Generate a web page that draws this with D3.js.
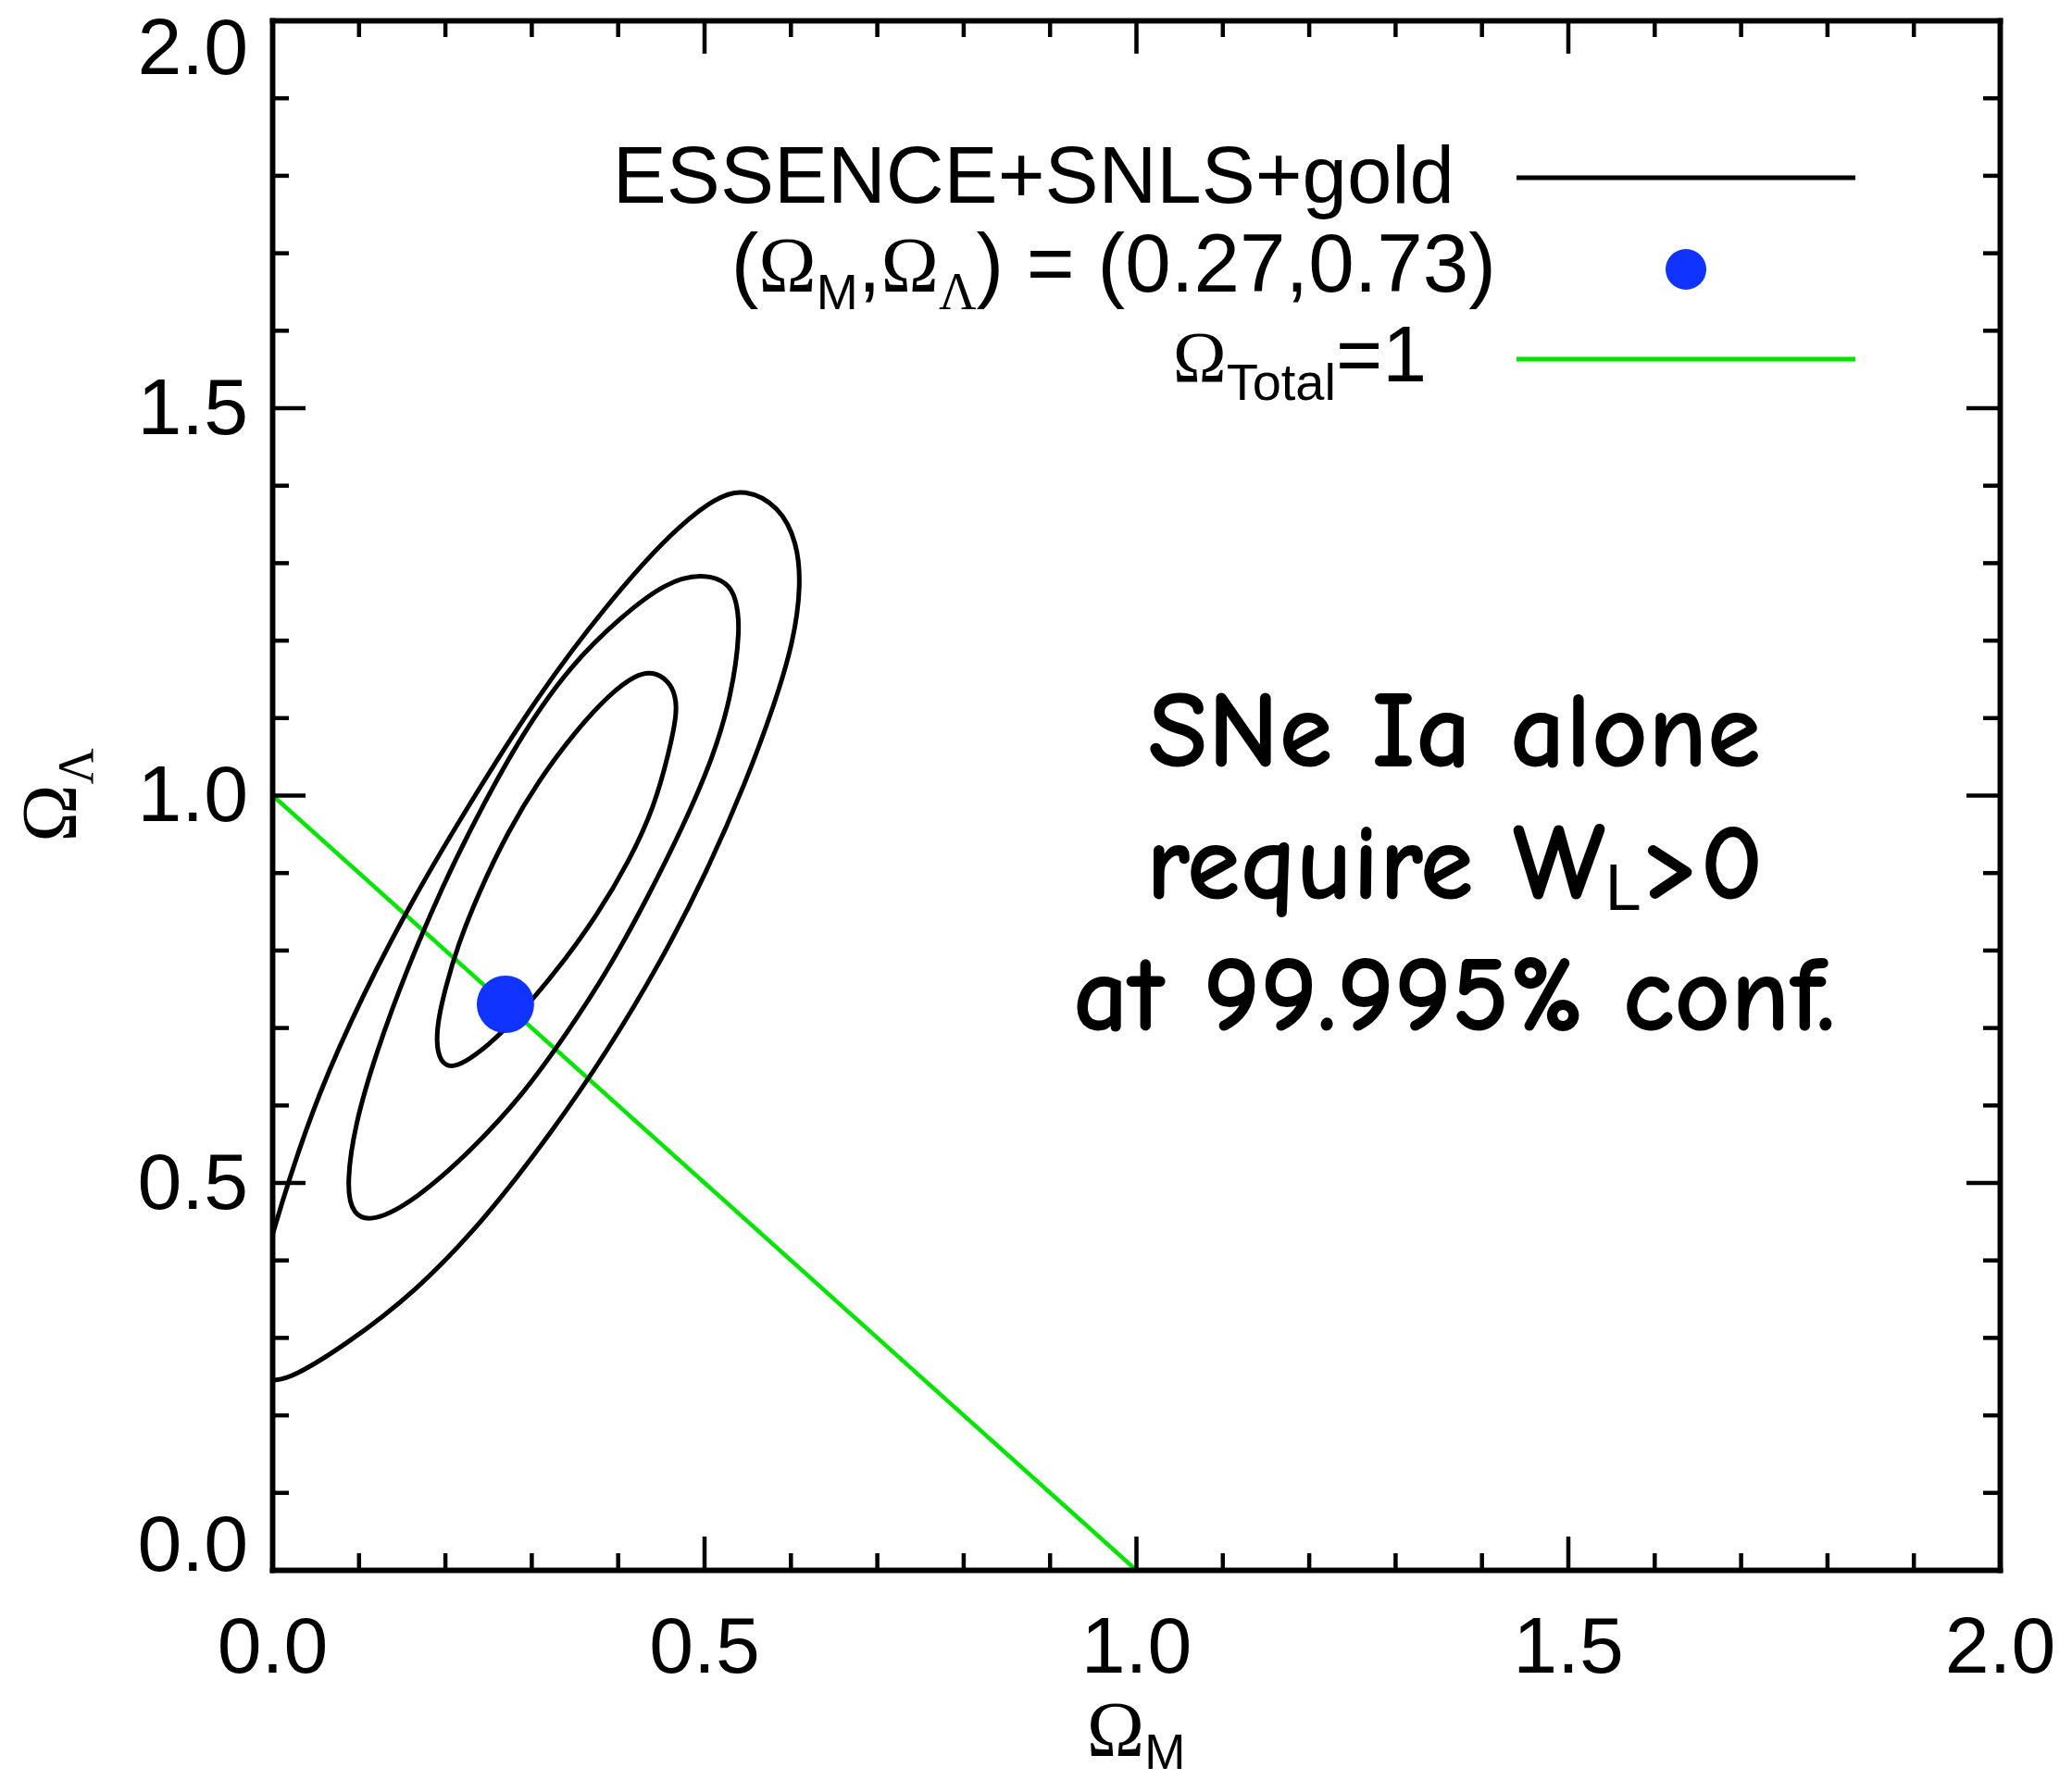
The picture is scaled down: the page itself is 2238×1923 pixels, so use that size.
<!DOCTYPE html>
<html>
<head>
<meta charset="utf-8">
<script src="https://cdnjs.cloudflare.com/ajax/libs/d3/7.8.5/d3.min.js"></script>
<style>
  body { margin: 0; background: #fff; }
  .tick text { font-family: "Liberation Sans", Arial, sans-serif; font-size: 86px; fill: #000; }
  .sans { font-family: "Liberation Sans", Arial, sans-serif; }
  .serif { font-family: "Liberation Serif", "Times New Roman", serif; }
  .comic { font-family: "Comic Sans MS", "Comic Neue", "DejaVu Sans", sans-serif; }
</style>
</head>
<body>
<div id="chart"></div>
<script>
const width = 2238
const height = 1923
const margin = {
    top: 22,
    bottom: 227,
    left: 294,
    right: 78
}

// ---- data ----
const majorTicks = [0, 0.5, 1.0, 1.5, 2.0]
const tickLabels = ["0.0", "0.5", "1.0", "1.5", "2.0"]
const minorTicks = [0.1, 0.2, 0.3, 0.4, 0.6, 0.7, 0.8, 0.9, 1.1, 1.2, 1.3, 1.4, 1.6, 1.7, 1.8, 1.9]

// 1, 2, 3 sigma contours (Omega_M, Omega_Lambda)
const contour1 = [[0.4405,1.1596],[0.4587,1.1481],[0.4673,1.1278],[0.4684,1.1039],[0.4597,1.0566],[0.4427,0.9857],[0.4131,0.9140],[0.3749,0.8428],[0.3384,0.7867],[0.3006,0.7348],[0.2656,0.6928],[0.2364,0.6646],[0.2090,0.6464],[0.1940,0.6559],[0.1897,0.6822],[0.1929,0.7145],[0.2004,0.7503],[0.2138,0.8031],[0.2392,0.8746],[0.2732,0.9536],[0.3087,1.0191],[0.3494,1.0804],[0.3918,1.1319],[0.4215,1.1557]]
const contour2 = [[0.4979,1.2864],[0.5274,1.2746],[0.5368,1.2547],[0.5423,1.2151],[0.5317,1.1280],[0.5105,1.0487],[0.4766,0.9616],[0.4342,0.8665],[0.3876,0.7715],[0.3409,0.6922],[0.2901,0.6130],[0.2308,0.5417],[0.1672,0.4784],[0.1164,0.4483],[0.0930,0.4585],[0.0859,0.4941],[0.0952,0.5735],[0.1206,0.6685],[0.1546,0.7715],[0.1969,0.8823],[0.2392,0.9774],[0.2901,1.0804],[0.3452,1.1676],[0.4046,1.2309],[0.4554,1.2746]]
const contour3 = [[-0.008,0.400],[0.0019,0.4387],[0.0189,0.5020],[0.0528,0.6130],[0.1036,0.7398],[0.1630,0.8665],[0.2308,0.9933],[0.3071,1.1280],[0.3876,1.2468],[0.4639,1.3419],[0.5148,1.3854],[0.5465,1.3958],[0.5868,1.3736],[0.6080,1.3260],[0.6122,1.2706],[0.6038,1.1993],[0.5825,1.1201],[0.5487,1.0171],[0.5020,0.8982],[0.4512,0.7873],[0.3876,0.6685],[0.3240,0.5655],[0.2478,0.4546],[0.1672,0.3595],[0.0824,0.2882],[0.0232,0.2485],[0.0041,0.2446],[-0.012,0.2445]]

const bestFit = [0.27, 0.73]
const flatLine = [[0, 1], [1, 0]]

const legendLabels = ["ESSENCE+SNLS+gold", "(ΩM,ΩΛ) = (0.27,0.73)", "ΩTotal=1"]
const noteLines = ["SNe Ia alone", "require WL>0", "at 99.995% conf."]

const green = "#00e400"
const blue = "#1033ff"

// ---- layout ----
const svg = d3.select("div#chart").append("svg").attr("width", width).attr("height", height)
const innerW = width - margin.left - margin.right
const innerH = height - margin.top - margin.bottom

svg.append("defs").append("clipPath").attr("id", "plotClip")
    .append("rect").attr("width", innerW).attr("height", innerH)

const elementGroup = svg.append("g").attr("id", "elementGroup").attr("transform", `translate(${margin.left}, ${margin.top})`)
const plotGroup = elementGroup.append("g").attr("clip-path", "url(#plotClip)")
const axisGroup = elementGroup.append("g").attr("id", "axisGroup")

const x = d3.scaleLinear().domain([0, 2]).range([0, innerW])
const y = d3.scaleLinear().domain([0, 2]).range([innerH, 0])

// major axes on all four sides, ticks pointing inwards
const fmt = (d) => tickLabels[majorTicks.indexOf(d)]
const xAxis = d3.axisBottom(x).tickValues(majorTicks).tickSize(-36).tickSizeOuter(0).tickPadding(50).tickFormat(fmt)
const yAxis = d3.axisLeft(y).tickValues(majorTicks).tickSize(-36).tickSizeOuter(0).tickPadding(26).tickFormat(fmt)
const xTop = d3.axisTop(x).tickValues(majorTicks).tickSize(-36).tickSizeOuter(0).tickFormat("")
const yRight = d3.axisRight(y).tickValues(majorTicks).tickSize(-36).tickSizeOuter(0).tickFormat("")

const minorBottom = d3.axisBottom(x).tickValues(minorTicks).tickSize(-18).tickSizeOuter(0).tickFormat("")
const minorTop = d3.axisTop(x).tickValues(minorTicks).tickSize(-18).tickSizeOuter(0).tickFormat("")
const minorLeft = d3.axisLeft(y).tickValues(minorTicks).tickSize(-18).tickSizeOuter(0).tickFormat("")
const minorRight = d3.axisRight(y).tickValues(minorTicks).tickSize(-18).tickSizeOuter(0).tickFormat("")

axisGroup.append("g").attr("transform", `translate(0, ${innerH})`).call(minorBottom)
axisGroup.append("g").call(minorTop)
axisGroup.append("g").call(minorLeft)
axisGroup.append("g").attr("transform", `translate(${innerW}, 0)`).call(minorRight)

const xAxisGroup = axisGroup.append("g").attr("transform", `translate(0, ${innerH})`).call(xAxis)
axisGroup.append("g").call(xTop)
const yAxisGroup = axisGroup.append("g").call(yAxis)
axisGroup.append("g").attr("transform", `translate(${innerW}, 0)`).call(yRight)

axisGroup.selectAll(".domain").attr("stroke", "#000").attr("stroke-width", 5.5).attr("stroke-linecap", "square")
axisGroup.selectAll(".tick line").attr("stroke", "#000").attr("stroke-width", 4.5)
// end labels on the y axis are pushed inside the frame
yAxisGroup.selectAll(".tick text")
    .attr("dy", d => d === 2 ? "0.67em" : (d === 0 ? "0" : "0.32em"))

// ---- marks ----
const closedLine = d3.line().x(d => x(d[0])).y(d => y(d[1])).curve(d3.curveBasisClosed)
const openLine = d3.line().x(d => x(d[0])).y(d => y(d[1])).curve(d3.curveBasis)
const straight = d3.line().x(d => x(d[0])).y(d => y(d[1]))

plotGroup.append("path").datum(flatLine).attr("d", straight)
    .attr("fill", "none").attr("stroke", green).attr("stroke-width", 4.5)

plotGroup.selectAll("path.contour").data([contour1, contour2]).enter().append("path")
    .attr("class", "contour").attr("d", closedLine)
    .attr("fill", "none").attr("stroke", "#000").attr("stroke-width", 5)
plotGroup.append("path").datum(contour3).attr("class", "contour").attr("d", openLine)
    .attr("fill", "none").attr("stroke", "#000").attr("stroke-width", 5)

plotGroup.append("circle")
    .attr("cx", x(bestFit[0])).attr("cy", y(bestFit[1])).attr("r", 31)
    .attr("fill", blue)

// ---- axis titles ----
const xTitle = svg.append("text").attr("text-anchor", "middle")
    .attr("x", margin.left + x(1)).attr("y", 1897)
xTitle.append("tspan").attr("class", "serif").attr("font-size", 84).text("Ω")
xTitle.append("tspan").attr("class", "sans").attr("font-size", 53).attr("dy", 14).text("M")

const yTitle = svg.append("text").attr("text-anchor", "middle")
    .attr("transform", `translate(82, ${margin.top + y(1)}) rotate(-90)`)
yTitle.append("tspan").attr("class", "serif").attr("font-size", 84).text("Ω")
yTitle.append("tspan").attr("class", "serif").attr("font-size", 54).attr("dy", 18).text("Λ")

// ---- legend ----
const legend = svg.append("g").attr("id", "legend")
const lineX0 = 1638, lineX1 = 2004

legend.append("text").attr("class", "sans").attr("font-size", 87)
    .attr("text-anchor", "end").attr("x", 1571).attr("y", 219).text(legendLabels[0])
legend.append("line").attr("x1", lineX0).attr("x2", lineX1).attr("y1", 192).attr("y2", 192)
    .attr("stroke", "#000").attr("stroke-width", 5)

const l2 = legend.append("text").attr("text-anchor", "end").attr("x", 1616).attr("y", 315)
l2.append("tspan").attr("class", "sans").attr("font-size", 89).text("(")
l2.append("tspan").attr("class", "serif").attr("font-size", 84).text("Ω")
l2.append("tspan").attr("class", "sans").attr("font-size", 54).attr("dy", 19).text("M")
l2.append("tspan").attr("class", "sans").attr("font-size", 89).attr("dy", -19).text(",")
l2.append("tspan").attr("class", "serif").attr("font-size", 84).text("Ω")
l2.append("tspan").attr("class", "serif").attr("font-size", 56).attr("dy", 19).text("Λ")
l2.append("tspan").attr("class", "sans").attr("font-size", 89).attr("dy", -19).text(") = (0.27,0.73)")
legend.append("circle").attr("cx", 1821).attr("cy", 291).attr("r", 22).attr("fill", blue)

const l3 = legend.append("text").attr("text-anchor", "end").attr("x", 1541).attr("y", 412)
l3.append("tspan").attr("class", "serif").attr("font-size", 78).text("Ω")
l3.append("tspan").attr("class", "sans").attr("font-size", 56).attr("dy", 20).text("Total")
l3.append("tspan").attr("class", "sans").attr("font-size", 86).attr("dy", -20).text("=1")
legend.append("line").attr("x1", lineX0).attr("x2", lineX1).attr("y1", 388).attr("y2", 388)
    .attr("stroke", green).attr("stroke-width", 5)

// ---- annotation ----
const note = svg.append("g").attr("class", "comic").attr("font-size", 118)
    .attr("font-weight", "bold").attr("text-anchor", "middle")
note.append("text").attr("x", 1571).attr("y", 828).text(noteLines[0])
const n2 = note.append("text").attr("x", 1571).attr("y", 971)
n2.append("tspan").text("require W")
n2.append("tspan").attr("font-size", 70).attr("font-weight", "normal").attr("dy", 12).attr("class", "sans").text("L")
n2.append("tspan").attr("dy", -12).text(">0")
note.append("text").attr("x", 1571).attr("y", 1113).text(noteLines[2])
</script>
</body>
</html>
